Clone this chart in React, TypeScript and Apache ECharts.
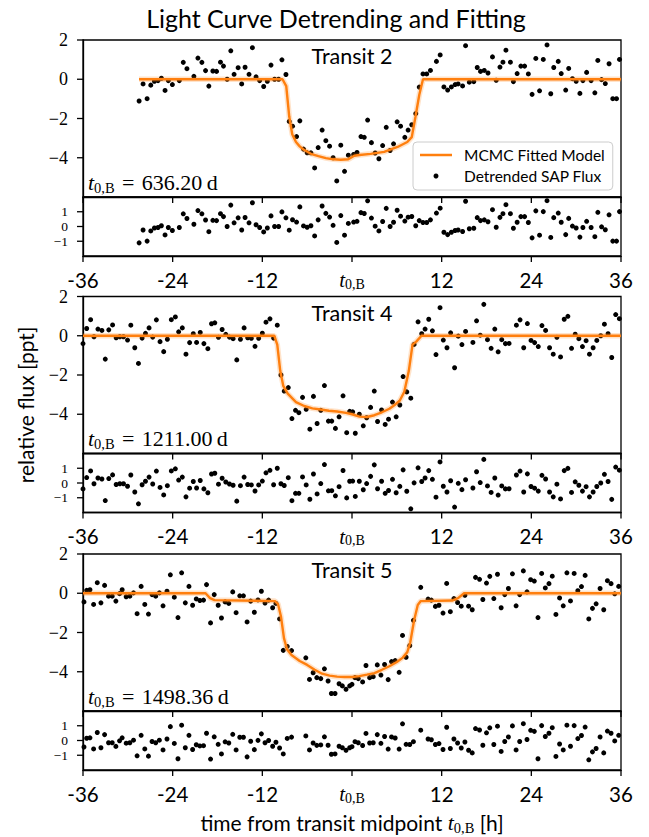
import React, { useEffect, useRef } from 'react';
import * as echarts from 'echarts';

// ---------- tick labels / names ----------
const xTickValues = [-36, -24, -12, 0, 12, 24, 36];
const mainTicks = [-4, -2, 0, 2];
const residTicks = [-1, 0, 1];
const transitNames = ['Transit 2', 'Transit 4', 'Transit 5'];
const epochValues = ['636.20', '1211.00', '1498.36'];

// ---------- Transit 2 ----------
const t1 = [-28.49,-27.96,-27.42,-26.93,-26.44,-25.96,-25.51,-25.02,-24.58,-24.04,-23.11,-22.58,-22.09,-21.16,-20.62,-20.09,-19.60,-19.16,-18.62,-18.13,-17.60,-17.20,-16.71,-16.22,-15.78,-15.24,-14.76,-14.31,-13.78,-13.33,-12.84,-12.36,-11.82,-11.33,-10.84,-10.36,-9.82,-9.38,-8.84,-8.40,-7.96,-7.42,-6.98,-6.49,-6.00,-5.50,-5.00,-4.53,-4.00,-3.50,-3.00,-2.53,-2.04,-1.50,-1.00,-0.49,0.22,0.67,1.20,1.64,2.09,2.60,3.10,3.60,4.10,4.58,5.10,5.56,6.04,6.50,7.07,7.51,8.00,8.53,9.00,9.50,10.00,10.50,11.30,11.80,12.30,12.80,13.30,13.80,14.20,14.80,15.20,15.70,16.30,16.76,17.20,17.70,18.20,18.80,19.30,19.80,20.20,20.60,21.20,21.60,22.10,22.60,23.10,23.60,24.10,24.60,25.10,25.60,26.10,26.60,27.00,27.60,28.00,28.60,29.00,29.50,30.00,30.50,30.90,31.40,32.00,32.50,32.90,33.40,33.90,34.40,34.90,35.40,35.80];
const f1 = [-1.11,-0.24,-0.99,-0.30,-0.10,-0.07,0.05,-0.57,-0.07,-0.27,-0.07,0.86,0.54,0.15,1.08,0.86,0.44,-0.35,0.42,0.40,0.87,0.67,0.00,1.45,0.25,0.59,-0.24,0.61,0.25,1.61,0.12,-0.07,-0.37,-0.10,0.72,0.00,0.00,0.99,0.24,-2.15,-2.39,-2.92,-2.12,-3.56,-3.75,-3.75,-4.52,-3.48,-2.59,-3.13,-3.41,-4.00,-5.18,-3.36,-4.69,-3.87,-3.83,-3.73,-2.92,-2.96,-2.08,-3.23,-3.76,-4.05,-3.38,-2.45,-3.63,-3.29,-2.17,-2.39,-2.96,-2.59,-2.32,-1.75,-0.40,0.27,0.27,0.45,0.91,1.24,-0.39,-0.55,-0.39,-0.27,-0.24,-0.34,1.71,-0.15,-0.12,0.60,0.40,0.45,0.32,1.14,-0.05,0.62,0.87,1.48,0.87,-0.12,0.29,0.67,0.67,0.27,-0.77,1.06,-0.59,1.01,1.75,-0.74,0.60,0.91,0.29,-0.55,0.55,0.03,-0.10,-0.72,-0.07,0.35,-0.07,-0.69,0.96,-0.02,-0.22,0.79,-0.99,-0.99,1.01];
const r1 = [-1.11,-0.24,-0.99,-0.30,-0.10,-0.07,0.05,-0.57,-0.07,-0.27,-0.07,0.86,0.54,0.15,1.08,0.86,0.44,-0.35,0.42,0.40,0.87,0.67,0.00,1.45,0.25,0.59,-0.24,0.61,0.25,1.61,0.12,-0.07,-0.37,-0.10,0.72,0.00,0.00,0.99,0.59,-0.25,0.46,0.30,1.33,0.04,-0.05,0.05,-0.64,0.45,1.39,0.89,0.64,0.08,-1.08,0.74,-0.59,0.21,0.30,0.35,0.94,0.88,1.74,0.57,0.02,-0.30,0.34,1.23,0.00,0.29,1.10,0.70,0.37,0.63,0.68,0.05,0.40,0.27,0.27,0.45,0.91,1.24,-0.39,-0.55,-0.39,-0.27,-0.24,-0.34,1.71,-0.15,-0.12,0.60,0.40,0.45,0.32,1.14,-0.05,0.62,0.87,1.48,0.87,-0.12,0.29,0.67,0.67,0.27,-0.77,1.06,-0.59,1.01,1.75,-0.74,0.60,0.91,0.29,-0.55,0.55,0.03,-0.10,-0.72,-0.07,0.35,-0.07,-0.69,0.96,-0.02,-0.22,0.79,-0.99,-0.99,1.01];
const m1t = [-28.5,-9.3,-8.8,-8.4,-8.0,-7.5,-7.0,-6.5,-5.5,-4.5,-3.5,-2.5,-1.5,-0.5,0.3,1.0,2.5,4.3,6.1,7.4,8.0,8.5,9.0,9.5,36];
const m1f = [0,0,-0.35,-1.9,-2.8,-3.2,-3.42,-3.58,-3.8,-3.92,-4.02,-4.08,-4.1,-4.08,-3.9,-3.86,-3.8,-3.7,-3.45,-3.2,-2.95,-1.9,-0.8,0,0];

// ---------- Transit 4 ----------
const t2 = [-36.00,-35.51,-34.98,-34.53,-34.00,-33.47,-33.02,-32.55,-32.04,-31.56,-31.07,-30.58,-30.04,-29.60,-29.07,-28.58,-28.09,-27.64,-27.16,-26.67,-26.18,-25.69,-25.20,-24.71,-24.18,-23.64,-23.20,-22.71,-22.22,-21.73,-21.24,-20.80,-20.31,-19.82,-19.29,-18.80,-18.36,-17.87,-17.38,-16.89,-16.40,-15.91,-15.42,-14.93,-14.44,-13.96,-13.47,-12.98,-12.49,-12.00,-11.51,-10.98,-10.49,-10.00,-9.51,-9.07,-8.53,-8.04,-7.56,-7.11,-6.62,-6.13,-5.64,-5.16,-4.67,-4.18,-3.69,-3.16,-2.71,-2.22,-1.73,-1.20,-0.71,-0.31,0.09,0.44,0.98,1.51,1.96,2.49,2.98,3.42,3.96,4.44,4.89,5.42,5.91,6.40,6.84,7.33,7.87,8.31,8.84,9.33,9.78,10.27,10.76,11.24,11.78,12.22,12.71,13.20,13.73,14.22,14.71,15.20,16.18,16.67,17.16,17.64,18.13,18.62,19.11,19.56,20.04,20.53,21.02,22.00,22.49,22.98,23.47,23.96,24.44,24.93,25.42,25.91,26.44,26.93,27.42,27.91,28.40,28.89,29.38,29.87,30.36,30.84,31.33,31.78,32.27,32.76,33.29,33.78,34.27,34.76,35.29,35.78];
const f2 = [-0.40,0.37,0.82,-0.05,0.34,0.27,-1.19,0.30,0.55,-0.10,-0.05,-0.05,-0.22,0.54,-0.61,-1.41,-0.12,0.12,0.40,-0.07,0.81,-0.30,-0.81,-0.18,0.82,0.96,0.20,0.40,-0.94,-0.35,0.10,-0.34,0.17,-0.40,-0.66,0.61,0.66,-0.08,0.32,0.07,-0.07,-0.15,-1.23,-0.18,0.40,-0.10,-0.13,-0.54,-0.13,0.13,0.69,0.86,-0.12,0.54,-2.00,-2.82,-2.64,-4.22,-3.80,-3.92,-3.14,-3.75,-4.76,-3.09,-4.47,-3.80,-2.54,-4.35,-4.35,-4.72,-4.13,-3.06,-4.94,-3.85,-3.88,-4.97,-4.00,-4.59,-4.18,-3.65,-2.82,-4.37,-3.78,-4.52,-4.25,-3.38,-4.13,-3.53,-2.08,-2.86,-3.18,-0.44,0.71,0.10,0.34,0.84,0.25,-0.96,1.43,-0.22,-0.61,0.15,-1.63,-0.02,-0.45,0.22,-0.34,0.76,0.03,1.60,-0.20,-0.64,0.34,-0.82,-0.20,-0.40,-0.39,0.54,0.81,-0.61,0.62,-0.24,-0.35,-0.55,0.52,0.27,-0.61,-0.94,-0.08,-1.08,0.84,0.99,-0.64,0.08,-0.15,-0.55,-0.25,-0.94,-0.61,-0.24,0.00,0.59,0.10,-1.11,1.08,0.87];
const r2 = [-0.40,0.37,0.82,-0.05,0.34,0.27,-1.19,0.30,0.55,-0.10,-0.05,-0.05,-0.22,0.54,-0.61,-1.41,-0.12,0.12,0.40,-0.07,0.81,-0.30,-0.81,-0.18,0.82,0.96,0.20,0.40,-0.94,-0.35,0.10,-0.34,0.17,-0.40,-0.66,0.61,0.66,-0.08,0.32,0.07,-0.07,-0.15,-1.23,-0.18,0.40,-0.10,-0.13,-0.54,-0.13,0.13,0.69,0.86,-0.12,1.00,-0.05,-0.17,0.36,-1.20,-0.70,-0.70,0.41,-0.13,-1.10,0.61,-0.74,-0.04,1.25,-0.53,-0.52,-0.87,-0.25,0.85,-1.01,0.12,0.13,-0.91,0.12,-0.46,-0.04,0.45,1.23,-0.39,0.12,-0.70,-0.51,0.25,-0.66,-0.23,0.89,-0.56,-1.75,0.01,1.03,0.10,0.34,0.84,0.25,-0.96,1.43,-0.22,-0.61,0.15,-1.63,-0.02,-0.45,0.22,-0.34,0.76,0.03,1.60,-0.20,-0.64,0.34,-0.82,-0.20,-0.40,-0.39,0.54,0.81,-0.61,0.62,-0.24,-0.35,-0.55,0.52,0.27,-0.61,-0.94,-0.08,-1.08,0.84,0.99,-0.64,0.08,-0.15,-0.55,-0.25,-0.94,-0.61,-0.24,0.00,0.59,0.10,-1.11,1.08,0.87];
const m2t = [-36,-10.4,-10.0,-9.6,-9.2,-8.6,-7.5,-6.4,-5.3,-4.2,-3.1,-2.0,-0.8,0,1.0,2.0,3.0,4.0,5.0,5.8,6.4,7.0,7.6,8.1,8.6,9.3,36];
const m2f = [0,0,-0.45,-1.8,-2.55,-2.95,-3.38,-3.58,-3.7,-3.76,-3.82,-3.86,-3.93,-4.0,-4.12,-4.14,-4.05,-3.9,-3.72,-3.5,-3.3,-2.85,-1.8,-0.45,-0.3,0,0];

// ---------- Transit 5 ----------
const t3 = [-35.87,-35.51,-35.07,-34.58,-34.09,-33.60,-33.11,-32.58,-32.09,-31.60,-31.11,-30.76,-30.22,-29.73,-29.24,-28.76,-28.22,-27.73,-27.24,-26.76,-26.27,-25.78,-25.29,-24.76,-24.31,-23.78,-23.29,-22.80,-22.31,-21.82,-21.33,-20.84,-20.36,-19.87,-19.47,-18.93,-18.44,-17.91,-17.47,-16.98,-16.49,-15.96,-15.51,-15.02,-14.53,-14.04,-13.56,-13.07,-12.58,-12.13,-11.64,-11.16,-10.62,-10.18,-9.69,-9.20,-8.67,-8.09,-6.18,-5.69,-5.20,-4.71,-4.18,-3.69,-3.20,-2.76,-2.27,-1.73,-1.29,-0.80,-0.31,0.00,0.40,0.84,1.42,1.87,2.36,2.84,3.38,3.87,4.36,4.84,5.29,5.78,6.31,6.76,7.24,7.73,8.22,9.20,10.18,10.62,11.16,11.64,12.18,12.67,13.16,13.64,14.13,14.62,15.11,15.60,16.09,16.53,17.07,17.51,18.00,18.44,18.98,19.47,19.96,20.44,20.93,21.47,21.96,22.44,22.93,23.42,23.91,24.40,24.89,25.38,25.87,26.36,26.80,27.29,27.78,28.27,28.76,29.24,29.73,30.22,30.71,31.20,31.69,32.18,32.67,33.20,33.69,34.18,34.67,35.16,35.69];
const f3 = [-0.44,0.15,0.18,-0.57,0.54,-0.49,0.40,-0.15,-0.15,-0.40,-0.02,0.18,-0.18,-0.15,0.02,-1.04,0.35,-0.57,-1.06,-0.07,-0.15,0.02,-0.64,0.10,0.94,-0.20,-1.24,1.04,-0.49,0.35,-0.61,-0.29,-0.37,-0.35,0.44,-1.51,-0.07,-0.61,-1.26,-0.44,-0.52,0.07,-0.99,-0.13,-0.13,-1.46,-0.40,-0.97,-0.34,0.10,-0.50,-0.35,-0.74,-0.52,-1.31,-2.91,-2.71,-2.92,-3.29,-4.39,-4.05,-4.30,-4.35,-3.85,-4.47,-5.11,-5.11,-4.61,-4.72,-4.89,-4.72,-4.64,-4.30,-4.35,-4.52,-3.68,-4.30,-4.25,-3.65,-4.17,-3.63,-4.40,-3.48,-3.43,-4.03,-2.15,-3.26,-2.67,-1.38,0.30,-0.30,-0.35,-0.67,-0.61,-1.01,0.50,-0.94,-0.27,-0.47,-0.66,-0.10,-0.66,-0.84,0.81,0.71,-0.32,0.52,0.86,-0.27,0.97,-0.74,-0.07,0.24,0.99,-0.64,-0.07,1.14,0.07,0.69,0.62,-1.24,1.01,0.27,0.49,0.87,-1.08,-0.24,-0.64,1.04,-0.39,1.01,0.13,0.34,0.91,-1.31,-0.77,-0.54,0.24,-0.84,0.64,0.49,-0.03,0.35];
const r3 = [-0.44,0.15,0.18,-0.57,0.54,-0.49,0.40,-0.15,-0.15,-0.40,-0.02,0.18,-0.18,-0.15,0.02,-1.04,0.35,-0.57,-1.06,-0.07,-0.15,0.02,-0.64,0.10,0.94,-0.20,-1.24,1.04,-0.49,0.35,-0.61,-0.29,-0.37,-0.35,0.49,-1.26,0.25,-0.26,-0.91,-0.09,-0.17,0.42,-0.64,0.22,0.22,-1.11,-0.05,-0.62,0.01,0.45,-0.15,0.00,-0.39,-0.12,-0.51,-0.91,0.14,0.23,0.31,-0.64,-0.17,-0.33,-0.30,0.25,-0.32,-0.93,-0.91,-0.39,-0.49,-0.66,-0.49,-0.42,-0.08,-0.15,-0.34,0.48,-0.17,-0.15,0.40,-0.19,0.27,-0.58,0.24,0.17,-0.58,1.13,-0.26,-0.27,-0.08,0.70,0.10,0.05,-0.27,-0.21,-0.61,0.90,-0.54,0.10,-0.17,-0.51,-0.10,-0.66,-0.84,0.81,0.71,-0.32,0.52,0.86,-0.27,0.97,-0.74,-0.07,0.24,0.99,-0.64,-0.07,1.14,0.07,0.69,0.62,-1.24,1.01,0.27,0.49,0.87,-1.08,-0.24,-0.64,1.04,-0.39,1.01,0.13,0.34,0.91,-1.31,-0.77,-0.54,0.24,-0.84,0.64,0.49,-0.03,0.35];
const m3t = [-36,-19.6,-19.0,-18.4,-10.3,-9.9,-9.5,-9.1,-8.7,-8.1,-7.0,-6.0,-5.0,-4.0,-3.0,-2.0,-1.0,0,1.0,2.0,3.0,4.0,5.0,6.0,6.8,7.4,7.8,8.3,8.8,9.2,13.4,14.2,15.0,36];
const m3f = [0,0,-0.25,-0.35,-0.4,-0.55,-1.2,-2.3,-2.85,-3.15,-3.45,-3.65,-3.9,-4.1,-4.2,-4.25,-4.27,-4.27,-4.22,-4.15,-4.07,-3.9,-3.72,-3.5,-3.28,-3.0,-2.5,-1.4,-0.6,-0.4,-0.37,-0.25,0,0];

const panels = [
  { t: t1, f: f1, r: r1, mt: m1t, mf: m1f },
  { t: t2, f: f2, r: r2, mt: m2t, mf: m2f },
  { t: t3, f: f3, r: r3, mt: m3t, mf: m3f },
];

// ---------- layout ----------
const LEFT = 83;
const WIDTH = 538;
const MAIN_TOPS = [40, 296.5, 554];
const MAIN_H = 157;
const RES_H = 59;
const MAIN_MIN = -6, MAIN_MAX = 2, RES_MIN = -2, RES_MAX = 2;
const TICK_LEN = 6;
const TICK_W = 1.3;
const ORANGE = '#ff7f0e';
const SERIF = 'Liberation Serif';
const SANS = 'Lato';

function zip(a: number[], b: number[]) {
  const n = Math.min(a.length, b.length);
  const out: number[][] = [];
  for (let i = 0; i < n; i++) out.push([a[i], b[i]]);
  return out;
}

const subRich = {
  i: { fontFamily: SERIF, fontStyle: 'italic', fontSize: 22, lineHeight: 26, verticalAlign: 'middle', color: '#000' },
  s: { fontFamily: SERIF, fontSize: 14.5, lineHeight: 14, verticalAlign: 'bottom', color: '#000' },
  n: { fontFamily: SERIF, fontSize: 22, lineHeight: 26, verticalAlign: 'middle', color: '#000' },
};

const AXIS_LINE = { show: true, onZero: false, lineStyle: { color: '#000', width: 1.3 } };
const fmtMinus = (v: number) => String(v).replace('-', '\u2212');

// tick marks drawn as small rect symbols placed by the axes' own scales
function tickSeries(name: string, xi: number, yi: number, data: number[][], vertical: boolean) {
  return {
    type: 'scatter', name, xAxisIndex: xi, yAxisIndex: yi, data,
    symbol: 'rect',
    symbolSize: vertical ? [TICK_W, TICK_LEN] : [TICK_LEN, TICK_W],
    symbolOffset: vertical ? [0, TICK_LEN / 2] : [-TICK_LEN / 2, 0],
    clip: false, silent: true, z: 5,
    itemStyle: { color: '#000', opacity: 1 },
    emphasis: { disabled: true },
  };
}

export default function App() {
  const ref = useRef<HTMLDivElement>(null);
  useEffect(() => {
    if (!ref.current) return;
    const chart = echarts.init(ref.current, null, { renderer: 'svg', width: 649, height: 837 });

    const grids: any[] = [];
    const xAxes: any[] = [];
    const yAxes: any[] = [];
    const series: any[] = [];
    const graphics: any[] = [];

    MAIN_TOPS.forEach((top, i) => {
      const p = panels[i];
      grids.push({ left: LEFT, width: WIDTH, top, height: MAIN_H, show: true, borderColor: '#000', borderWidth: 1.3, backgroundColor: 'transparent' });
      grids.push({ left: LEFT, width: WIDTH, top: top + MAIN_H, height: RES_H, show: true, borderColor: '#000', borderWidth: 1.3, backgroundColor: 'transparent' });

      const baseX = {
        type: 'value', min: -36, max: 36, interval: 12, position: 'bottom',
        axisLine: AXIS_LINE,
        axisTick: { show: false },
        splitLine: { show: false },
      };
      xAxes.push({ ...baseX, gridIndex: 2 * i, axisLabel: { show: false } });
      xAxes.push({
        ...baseX, gridIndex: 2 * i + 1,
        axisLabel: {
          show: true, showMinLabel: true, showMaxLabel: true, margin: 13, color: '#000', fontFamily: SANS, fontSize: 20.5,
          formatter: (v: number) => (v === 0 ? '{i|t}{s|0,B}' : String(v)),
          rich: {
            i: { fontFamily: SERIF, fontStyle: 'italic', fontSize: 21, lineHeight: 22, verticalAlign: 'middle', color: '#000' },
            s: { fontFamily: SERIF, fontSize: 14, lineHeight: 12, verticalAlign: 'bottom', color: '#000' },
          },
        },
      });

      yAxes.push({
        type: 'value', gridIndex: 2 * i, min: MAIN_MIN, max: MAIN_MAX, interval: 2, position: 'left',
        axisLine: AXIS_LINE,
        axisTick: { show: false },
        axisLabel: {
          show: true, customValues: mainTicks, showMinLabel: true, showMaxLabel: true, margin: 15, color: '#000', fontFamily: SERIF, fontSize: 18,
          formatter: (v: number) => (v === MAIN_MIN ? '' : fmtMinus(v)),
        },
        splitLine: { show: false },
      });
      yAxes.push({
        type: 'value', gridIndex: 2 * i + 1, min: RES_MIN, max: RES_MAX, interval: 1, position: 'left',
        axisLine: AXIS_LINE,
        axisTick: { show: false },
        axisLabel: { show: false },
        splitLine: { show: false },
      });

      const model = zip(p.mt, p.mf);
      series.push({
        type: 'line', name: 'band' + i, xAxisIndex: 2 * i, yAxisIndex: 2 * i, data: model,
        symbol: 'none', silent: true, lineStyle: { color: ORANGE, width: 5.5, opacity: 0.22 },
      });
      series.push({
        type: 'line', name: 'MCMC Fitted Model', xAxisIndex: 2 * i, yAxisIndex: 2 * i, data: model,
        symbol: 'none', showSymbol: false, lineStyle: { color: ORANGE, width: 2.4 }, itemStyle: { color: ORANGE },
      });
      series.push({
        type: 'scatter', name: 'Detrended SAP Flux', xAxisIndex: 2 * i, yAxisIndex: 2 * i,
        data: zip(p.t, p.f), symbol: 'circle', symbolSize: 5, itemStyle: { color: '#000', opacity: 1 },
      });
      series.push({
        type: 'scatter', name: 'resid' + i, xAxisIndex: 2 * i + 1, yAxisIndex: 2 * i + 1,
        data: zip(p.t, p.r), symbol: 'circle', symbolSize: 5, itemStyle: { color: '#000', opacity: 1 },
      });

      // ticks
      series.push(tickSeries('ytick-main' + i, 2 * i, 2 * i, mainTicks.map((v) => [-36, v]), false));
      series.push(tickSeries('ytick-res' + i, 2 * i + 1, 2 * i + 1, residTicks.map((v) => [-36, v]), false));
      series.push(tickSeries('xtick-main' + i, 2 * i, 2 * i, xTickValues.map((v) => [v, MAIN_MIN]), true));
      series.push(tickSeries('xtick-res' + i, 2 * i + 1, 2 * i + 1, xTickValues.map((v) => [v, RES_MIN]), true));

      graphics.push({
        type: 'text', x: LEFT + WIDTH / 2, y: top + 16, z: 10,
        style: { text: transitNames[i], fontFamily: SANS, fontSize: 21.5, fill: '#000', align: 'center', verticalAlign: 'middle', textAlign: 'center', textVerticalAlign: 'middle' },
      });
      graphics.push({
        type: 'text', x: LEFT + 5, y: top + MAIN_H - 2, z: 10,
        style: {
          text: '{i|t}{s|0,B}{n|\u2004=\u2004' + epochValues[i] + '\u2009d}', rich: subRich, fill: '#000',
          align: 'left', verticalAlign: 'bottom', textAlign: 'left', textVerticalAlign: 'bottom',
        },
      });
    });

    graphics.push({
      type: 'text', x: 336, y: 18,
      style: { text: 'Light Curve Detrending and Fitting', fontFamily: SANS, fontSize: 25, fill: '#000', align: 'center', verticalAlign: 'middle', textAlign: 'center', textVerticalAlign: 'middle' },
    });
    graphics.push({
      type: 'text', x: 25, y: 405, rotation: Math.PI / 2,
      style: { text: 'relative flux [ppt]', fontFamily: SANS, fontSize: 21, fill: '#000', align: 'center', verticalAlign: 'middle', textAlign: 'center', textVerticalAlign: 'middle' },
    });
    graphics.push({
      type: 'text', x: 352, y: 822,
      style: {
        text: '{a|time from transit midpoint }{i|t}{s|0,B}{a| [h]}',
        rich: {
          a: { fontFamily: SANS, fontSize: 21, lineHeight: 26, verticalAlign: 'middle', color: '#000' },
          i: { fontFamily: SERIF, fontStyle: 'italic', fontSize: 22, lineHeight: 26, verticalAlign: 'middle', color: '#000' },
          s: { fontFamily: SERIF, fontSize: 14.5, lineHeight: 14, verticalAlign: 'bottom', color: '#000' },
        },
        fill: '#000', align: 'center', verticalAlign: 'middle', textAlign: 'center', textVerticalAlign: 'middle',
      },
    });

    chart.setOption({
      animation: false,
      backgroundColor: '#fff',
      grid: grids,
      xAxis: xAxes,
      yAxis: yAxes,
      series,
      graphic: graphics,
      legend: {
        show: true,
        data: [
          { name: 'MCMC Fitted Model', icon: 'path://M0,0H32V2.5H0Z', itemStyle: { color: ORANGE } },
          { name: 'Detrended SAP Flux', icon: 'circle', itemStyle: { color: '#000' } },
        ],
        orient: 'vertical', left: 413, top: 142,
        itemWidth: 32, itemHeight: 5, itemGap: 3,
        padding: [4, 8, 5, 7],
        backgroundColor: 'rgba(255,255,255,0.85)', borderColor: '#cccccc', borderWidth: 1, borderRadius: 4,
        selectedMode: false,
        textStyle: { fontFamily: SANS, fontSize: 15.5, lineHeight: 18, color: '#000', padding: [0, 0, 0, 7] },
      },
    });

    // Residual tick labels, positioned through the residual axes' own scales.
    const extra: any[] = [];
    for (let i = 0; i < 3; i++) {
      const resFinder = { xAxisIndex: 2 * i + 1, yAxisIndex: 2 * i + 1 };
      residTicks.forEach((v) => {
        const pt = chart.convertToPixel(resFinder as any, [-36, v]) as number[];
        extra.push({
          type: 'text', silent: true, z: 100, x: pt[0] - 15, y: pt[1],
          style: { text: fmtMinus(v), fontFamily: SERIF, fontSize: 13.5, lineHeight: 13, fill: '#000', align: 'right', verticalAlign: 'middle', textAlign: 'right', textVerticalAlign: 'middle' },
        });
      });
    }
    chart.setOption({ graphic: graphics.concat(extra) });

    return () => chart.dispose();
  }, []);

  return <div ref={ref} style={{ position: 'fixed', left: 0, top: 0, width: 649, height: 837, background: '#fff' }} />;
}
